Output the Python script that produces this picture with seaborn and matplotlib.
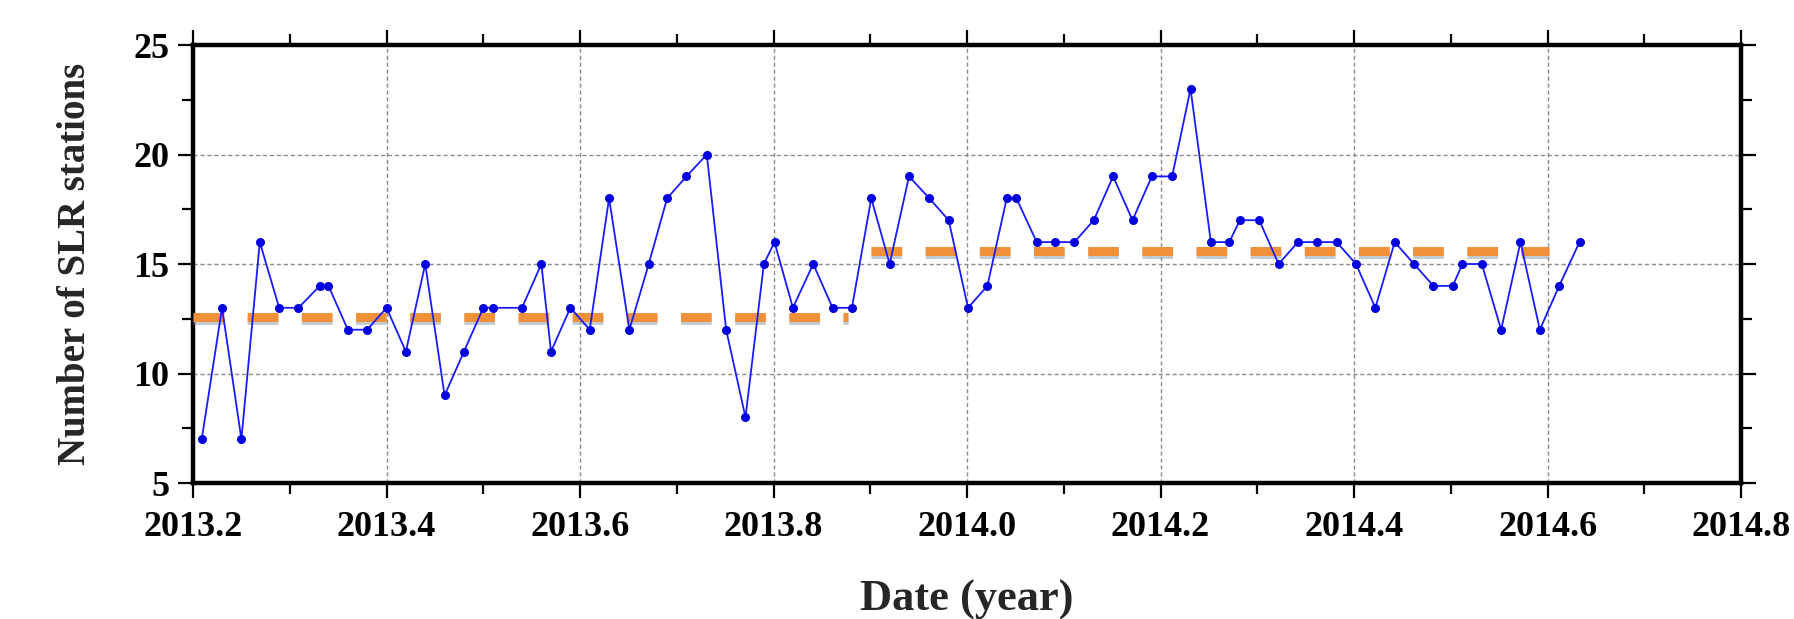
import numpy as np
import pandas as pd
import matplotlib
matplotlib.use('Agg')
import matplotlib.pyplot as plt
import matplotlib.patheffects as pe
from matplotlib.ticker import MultipleLocator
import seaborn as sns

# weekly number of SLR stations
date = [2013.209, 2013.230, 2013.250, 2013.269, 2013.289, 2013.309, 2013.331, 2013.340,
        2013.360, 2013.380, 2013.400, 2013.420, 2013.440, 2013.460, 2013.480, 2013.500,
        2013.510, 2013.540, 2013.560, 2013.570, 2013.590, 2013.610, 2013.630, 2013.651,
        2013.671, 2013.690, 2013.710, 2013.731, 2013.751, 2013.771, 2013.790, 2013.801,
        2013.820, 2013.841, 2013.861, 2013.881, 2013.901, 2013.920, 2013.940, 2013.961,
        2013.981, 2014.001, 2014.021, 2014.041, 2014.051, 2014.072, 2014.091, 2014.111,
        2014.131, 2014.151, 2014.171, 2014.191, 2014.212, 2014.231, 2014.252, 2014.271,
        2014.282, 2014.302, 2014.322, 2014.342, 2014.362, 2014.382, 2014.402, 2014.422,
        2014.442, 2014.462, 2014.482, 2014.502, 2014.512, 2014.532, 2014.552, 2014.572,
        2014.592, 2014.612, 2014.633]
stations = [7, 13, 7, 16, 13, 13, 14, 14,
            12, 12, 13, 11, 15, 9, 11, 13,
            13, 13, 15, 11, 13, 12, 18, 12,
            15, 18, 19, 20, 12, 8, 15, 16,
            13, 15, 13, 13, 18, 15, 19, 18,
            17, 13, 14, 18, 18, 16, 16, 16,
            17, 19, 17, 19, 19, 23, 16, 16,
            17, 17, 15, 16, 16, 16, 15, 13,
            16, 15, 14, 14, 15, 15, 12, 16,
            12, 14, 16]

# mean level of the two periods
period_start = [2013.2, 2013.901]
period_end = [2013.877, 2014.601]
period_mean = [12.6, 15.6]

df = pd.DataFrame({'date': date, 'stations': stations})

sns.set_style('ticks')
plt.rcParams['font.family'] = ['Liberation Serif', 'DejaVu Serif']
plt.rcParams['font.weight'] = 'bold'

fig = plt.figure(figsize=(17.94, 6.19), dpi=100)
ax = fig.add_axes([0.1076, 0.2197, 0.8629, 0.7076])

sns.lineplot(data=df, x='date', y='stations', ax=ax, color='#1a1aff', linewidth=1.3,
             marker='o', markersize=6.5, markeredgewidth=0, markerfacecolor='#0000e0', zorder=4)

for x0, x1, m in zip(period_start, period_end, period_mean):
    ax.plot([x0, x1], [m, m], color='#f0913a', linewidth=6.5, dashes=(3.4, 2.6),
            solid_capstyle='butt', dash_capstyle='butt', zorder=3,
            path_effects=[pe.SimpleLineShadow(offset=(0, -2.5), shadow_color='#8a9aa8', alpha=0.5),
                          pe.Normal()])

ax.set_xlim(2013.2, 2014.8)
ax.set_ylim(5, 25)
ax.xaxis.set_minor_locator(MultipleLocator(0.1))
ax.yaxis.set_major_locator(MultipleLocator(5))
ax.yaxis.set_minor_locator(MultipleLocator(2.5))
ticks = np.arange(2013.2, 2014.81, 0.2)
ax.set_xticks(ticks)
ax.set_xticklabels(['%.1f' % t for t in ticks])

ax.grid(True, which='major', color='#8c8c8c', linestyle=(0, (3, 2)), linewidth=1.0)
for s in ax.spines.values():
    s.set_linewidth(3.2)
    s.set_color('black')
ax.tick_params(which='both', direction='out', top=True, right=True, colors='black',
               labelsize=26, width=1.6)
ax.tick_params(which='major', length=11)
ax.tick_params(which='minor', length=8)
ax.tick_params(axis='x', pad=9)
ax.tick_params(axis='y', pad=6)

ax.set_xlabel('Date (year)', fontsize=32, fontweight='bold', labelpad=26)
ax.set_ylabel('Number of SLR stations', fontsize=28, fontweight='bold', labelpad=28)

plt.savefig('out.png', dpi=100)
